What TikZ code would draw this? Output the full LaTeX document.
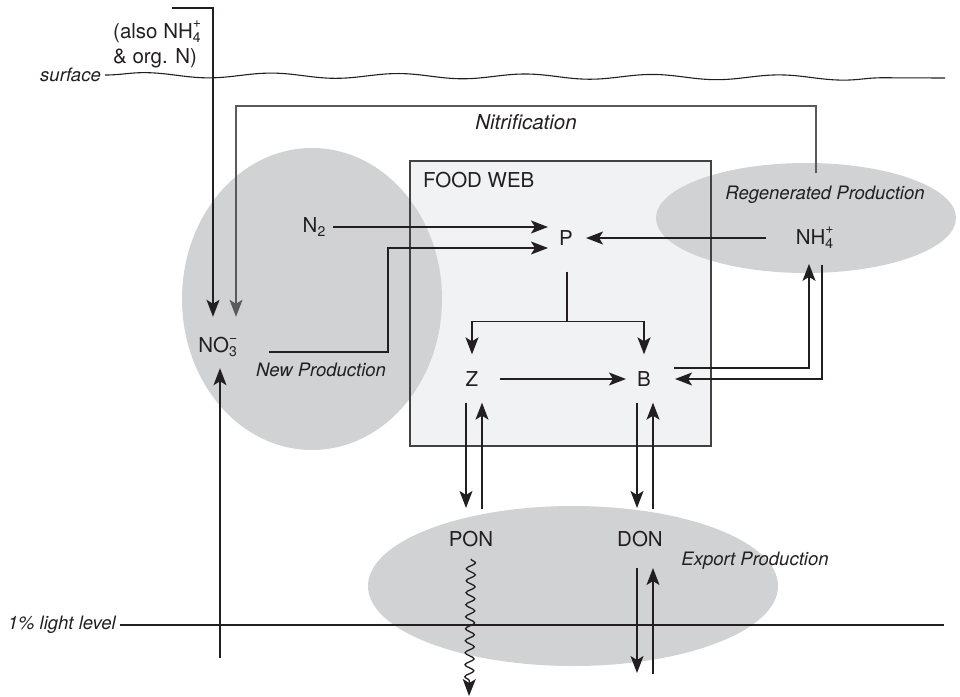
\documentclass[tikz,border=0pt]{standalone}
\usepackage{fontspec}
\setmainfont{TeX Gyre Heros}
\usetikzlibrary{positioning,arrows.meta,decorations.pathmorphing}

\definecolor{inkc}{HTML}{231F20}
\definecolor{blobc}{HTML}{D1D2D4}
\definecolor{webc}{HTML}{F1F2F4}
\definecolor{nitc}{HTML}{5A5A5A}

\newcommand{\chemion}[2]{\makebox[0.62em][l]{\rlap{\raisebox{-0.42ex}{\fontsize{14}{14}\selectfont #1}}\raisebox{0.95ex}{\fontsize{14}{14}\selectfont #2}}}
\newcommand{\chemsub}[1]{\raisebox{-0.42ex}{\fontsize{14}{14}\selectfont #1}}

\tikzset{
  spec/.style={font=\fontsize{20.5}{25}\selectfont, text=inkc, inner sep=0pt},
  lab/.style={font=\fontsize{18.5}{22}\selectfont\itshape, text=inkc, inner sep=0pt},
  arr/.style={draw=inkc, line width=1.3pt, -{Stealth[length=17pt,width=13pt,inset=4pt]}},
  level/.style={draw=inkc, line width=1.1pt},
}

\begin{document}
\begin{tikzpicture}[x=1pt, y=-1pt]
        \useasboundingbox (0,0) rectangle (960,696);
        % regions
        \fill[webc] (410,161) rectangle (711,446);
        \fill[blobc] (312,299) ellipse [x radius=130, y radius=151];
        \fill[blobc] (806,218) ellipse [x radius=150, y radius=55];
        \fill[blobc] (573,586) ellipse [x radius=205, y radius=80];
        \draw[draw=inkc!85, line width=1.2pt] (410,161) rectangle (711,446);

        % labels
        \node[lab, anchor=east] (surf) at (101,75) {surface};
        \node[lab, anchor=east] (light) at (116,625) {1\% light level};
        \node[lab, font=\fontsize{20.5}{24}\selectfont\itshape] (nitlab) at (526,122) {Nitrification};
        \node[lab] (newlab) at (321,370) {New Production};
        \node[lab] (reglab) at (825,195) {Regenerated Production};
        \node[lab] (explab) at (755,561) {Export Production};
        \node[spec, anchor=west] (fwlab) at (423,180) {FOOD WEB};
        \node[spec, align=left, anchor=north west] (also) at (113,21) {(also NH\chemion{4}{+}\\\& org. N)};

        % species
        \node[spec] (no3) at (220,347) {NO\chemion{3}{−}};
        \node[spec] (n2) at (314,227) {N\chemsub{2}};
        \node[spec] (p) at (566,238) {P};
        \node[spec] (nh4) at (817,238) {NH\chemion{4}{+}};
        \node[spec] (z) at (472,379) {Z};
        \node[spec] (b) at (644,379) {B};
        \node[spec] (pon) at (471,539) {PON};
        \node[spec] (don) at (640,539) {DON};

        \coordinate (ext) at (172,8);
        \coordinate (nitsrc) at (816,173);
        \coordinate (deep) at (220,658);
        \coordinate (sink) at (469,696);
        \coordinate (deepd) at (637,673);
        \coordinate (deepu) at (653,674);
        \coordinate (surfend) at (945,78);
        \coordinate (lightend) at (944,625);

        % levels
        \draw[level, decorate, decoration={snake, amplitude=2.5pt, segment length=127pt}] ([xshift=4pt]surf.east) -- (surfend);
        \draw[level] ([xshift=4pt]light.east) -- (lightend);

        % fluxes
        \draw[arr] (ext) -| ([xshift=-7pt,yshift=20pt]no3.north);
        \draw[arr, draw=nitc, line width=1.1pt] (nitsrc) -- ++(0,-67) -| ([xshift=16pt,yshift=20pt]no3.north);
        \draw[arr] (deep) -- ([yshift=-11pt]no3.south);
        \draw[arr] ([xshift=8pt]n2.east) -- ([xshift=-11pt,yshift=11pt]p.west);
        \draw[arr] ([xshift=27pt,yshift=-5pt]no3.east) -- ++(119,0) |- ([xshift=-11pt,yshift=-10pt]p.west);
        \draw[arr] ([xshift=-30pt]nh4.west) -- ([xshift=13pt]p.east);
        \draw[line width=1.3pt, draw=inkc] ([xshift=1pt,yshift=-26pt]p.south) -- ++(0,50) coordinate (fork);
        \draw[arr] (fork) -| ([yshift=17pt]z.north);
        \draw[arr] (fork) -| ([yshift=17pt]b.north);
        \draw[arr] ([xshift=22pt]z.east) -- ([xshift=-11pt]b.west);
        \draw[arr] ([xshift=23pt,yshift=11pt]b.east) -| ([xshift=-8pt,yshift=-15pt]nh4.south);
        \draw[arr] ([xshift=5pt,yshift=-16pt]nh4.south) |- ([xshift=24pt]b.east);
        \draw[arr] ([xshift=-6pt,yshift=-16pt]z.south) -- ([xshift=-5pt,yshift=23pt]pon.north);
        \draw[arr] ([xshift=11pt,yshift=22pt]pon.north) -- ([xshift=10pt,yshift=-16pt]z.south);
        \draw[arr] ([xshift=-7pt,yshift=-16pt]b.south) -- ([xshift=-3pt,yshift=23pt]don.north);
        \draw[arr] ([xshift=13pt,yshift=22pt]don.north) -- ([xshift=9pt,yshift=-16pt]b.south);
        \draw[arr, decorate, decoration={snake, amplitude=4.5pt, segment length=12pt, post length=14pt}] ([yshift=-12pt]pon.south) -- (sink);
        \draw[arr] ([xshift=-3pt,yshift=-21pt]don.south) -- (deepd);
        \draw[arr] (deepu) -- ([xshift=13pt,yshift=-21pt]don.south);
    \end{tikzpicture}
\end{document}
